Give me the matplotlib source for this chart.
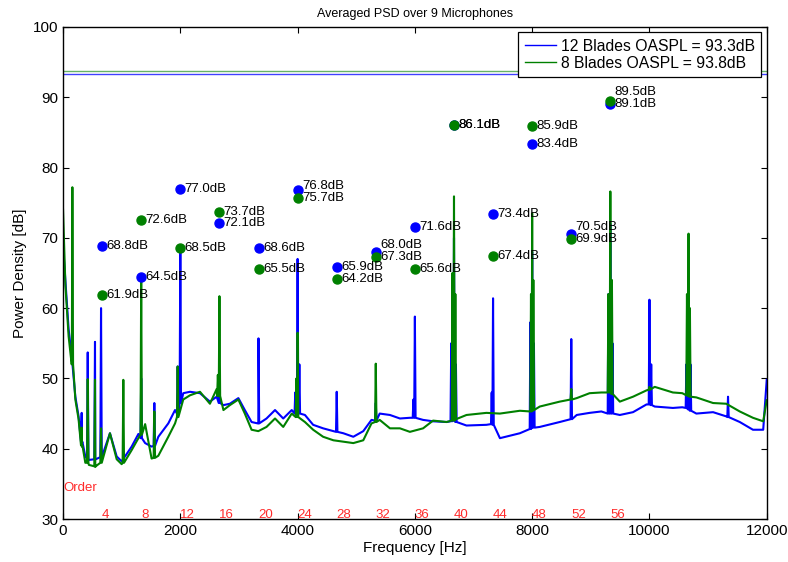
import numpy as np
import matplotlib
matplotlib.use("Agg")
import matplotlib.pyplot as plt

plt.rcParams['font.family'] = ['Liberation Sans', 'DejaVu Sans']

# ── 데이터 ─────────────────────────────────────────────────────────
SHAFT_HZ = 2000.0 / 12          # 1차 회전 주파수

# 광대역 바닥 (두 곡선 공통 주파수 격자)
base_freq = [0, 40, 95, 150, 210, 265, 320, 380, 440, 550, 660, 800, 915, 1000,
             1170, 1285, 1400, 1510, 1625, 1795, 1910, 2050, 2165, 2335, 2505,
             2620, 2735, 2845, 2990, 3100, 3215, 3330, 3470, 3615, 3755, 3900,
             4125, 4265, 4435, 4610, 4780, 4950, 5120, 5260, 5400, 5575, 5745,
             5915, 6140, 6310, 6540, 6880, 7220, 7450, 7790, 8130, 8470, 8760,
             8980, 9180, 9495, 9720, 9950, 10090, 10400, 10560, 10800, 11085,
             11310, 11540, 11765, 11940, 12000]
base_12 = [69.0, 64.0, 57.0, 53.0, 47.4, 44.6, 40.8, 38.9, 38.4, 38.5, 38.9, 42.2,
           38.9, 38.2, 40.3, 42.1, 40.8, 40.3, 41.7, 43.6, 45.5, 47.9, 48.1, 47.9,
           46.7, 47.4, 46.2, 46.4, 47.2, 45.5, 43.8, 43.6, 44.3, 45.5, 44.3, 45.5,
           44.8, 43.4, 42.9, 42.5, 42.2, 41.7, 42.5, 44.1, 45.0, 44.8, 44.3, 44.4,
           44.1, 43.9, 43.8, 43.3, 43.4, 41.5, 42.2, 43.1, 43.8, 44.8, 45.1, 45.3,
           44.8, 45.2, 46.3, 46.0, 45.8, 45.9, 45.0, 45.2, 44.6, 43.8, 42.7, 42.7,
           49.8]
base_8 = [74.0, 63.3, 56.0, 52.2, 47.0, 44.2, 40.3, 38.0, 37.7, 37.4, 38.1, 42.2,
          38.5, 37.8, 39.8, 41.5, 43.5, 38.6, 39.0, 41.7, 43.6, 47.0, 47.6, 48.1,
          46.4, 48.5, 45.5, 46.2, 47.0, 45.0, 42.7, 42.5, 43.1, 44.3, 43.1, 45.0,
          43.8, 42.7, 41.7, 41.2, 41.0, 40.8, 41.2, 43.6, 44.1, 42.9, 42.9, 42.4,
          42.9, 44.0, 43.8, 44.8, 45.1, 45.0, 45.4, 46.0, 46.7, 47.2, 47.9, 48.0,
          46.7, 47.4, 48.3, 48.8, 48.0, 47.9, 47.3, 46.5, 46.4, 45.3, 44.4, 43.9,
          46.9]

# 톤 성분 (주파수, 최대값, 바닥값)
peak_f_12 = [318, 421, 545, 648, 1333, 1557, 1955, 2000, 2667, 3333, 3960, 4000,
             4030, 4667, 5333, 5975, 6000, 6620, 6667, 6700, 7310, 7333, 7970,
             8000, 8030, 8667, 9300, 9333, 9370, 10000, 10030, 10630, 10667,
             10700, 11340]
peak_db_12 = [45.1, 53.7, 55.2, 60.0, 50.0, 46.5, 51.7, 68.4, 50.0, 55.7, 48.0,
              67.0, 52.0, 48.1, 46.5, 47.0, 58.8, 55.0, 70.0, 52.0, 48.0, 61.4,
              58.0, 68.0, 55.0, 55.6, 62.0, 72.0, 55.0, 61.2, 52.0, 52.0, 64.0,
              52.0, 47.4]
peak_foot_12 = [41.0, 38.6, 38.5, 38.8, 41.5, 40.4, 45.0, 46.5, 46.5, 43.6, 45.0,
                45.5, 45.0, 42.4, 44.0, 44.4, 44.4, 43.9, 44.0, 43.8, 43.5, 43.4,
                42.8, 43.0, 43.0, 44.2, 45.0, 45.0, 45.0, 46.3, 46.2, 45.8, 45.6,
                45.4, 44.5]

peak_f_8 = [159, 318, 421, 545, 648, 1028, 1333, 1557, 1955, 2640, 2667, 3980,
            4000, 5333, 6640, 6667, 6690, 7980, 8000, 8020, 8667, 9300, 9333,
            9360, 10000, 10640, 10667, 10690]
peak_db_8 = [77.2, 43.0, 49.9, 49.8, 42.9, 49.8, 64.5, 45.3, 51.7, 50.5, 61.7,
             50.0, 56.5, 52.1, 65.0, 75.9, 62.0, 62.0, 73.5, 64.0, 48.5, 62.0,
             76.6, 64.0, 48.8, 62.0, 70.6, 60.0]
peak_foot_8 = [52.0, 40.5, 38.0, 37.5, 38.0, 38.0, 42.0, 38.7, 44.5, 47.5, 47.5,
               44.5, 44.5, 43.8, 44.0, 44.0, 44.2, 45.3, 45.4, 45.5, 47.0, 48.0,
               48.0, 47.8, 48.4, 47.6, 47.5, 47.4]

# 차수별 톤 레벨
orders = [4, 8, 12, 16, 20, 24, 28, 32, 36, 40, 44, 48, 52, 56]
tone_12 = [68.8, 64.5, 77.0, 72.1, 68.6, 76.8, 65.9, 68.0, 71.6, 86.1, 73.4, 83.4, 70.5, 89.1]
tone_8 = [61.9, 72.6, 68.5, 73.7, 65.5, 75.7, 64.2, 67.3, 65.6, 86.1, 67.4, 85.9, 69.9, 89.5]

OASPL_12 = 93.3
OASPL_8 = 93.8

SPIKE_HW = 12   # 톤 반폭 [Hz]


def build_spectrum(bf, bl, pf, pdb, pfoot):
    f = list(bf)
    l = list(bl)
    for fc, top, foot in zip(pf, pdb, pfoot):
        f += [fc - SPIKE_HW, fc, fc + SPIKE_HW]
        l += [foot, top, foot]
    f = np.array(f, dtype=float)
    l = np.array(l, dtype=float)
    idx = np.argsort(f, kind='stable')
    return f[idx], l[idx]


f12, l12 = build_spectrum(base_freq, base_12, peak_f_12, peak_db_12, peak_foot_12)
f8, l8 = build_spectrum(base_freq, base_8, peak_f_8, peak_db_8, peak_foot_8)

BLUE = '#0000ff'
GREEN = '#008000'
RED = '#ff2a2a'

fig = plt.figure(figsize=(7.88, 5.62), dpi=100)
ax = fig.add_axes([0.080, 0.0765, 0.893, 0.8755])

h12, = ax.plot(f12, l12, color=BLUE, lw=1.5, label=f'12 Blades OASPL = {OASPL_12:.1f}dB')
h8, = ax.plot(f8, l8, color=GREEN, lw=1.5, label=f'8 Blades OASPL = {OASPL_8:.1f}dB')
ax.axhline(OASPL_12, color=BLUE, lw=1.0, alpha=0.75)
ax.axhline(OASPL_8, color=GREEN, lw=1.0, alpha=0.6)

# 차수 톤 마커 + 라벨
order_f = np.array(orders) * SHAFT_HZ
ax.plot(order_f, tone_12, 'o', color=BLUE, ms=6.5, mec=BLUE, zorder=5)
ax.plot(order_f, tone_8, 'o', color=GREEN, ms=6.5, mec=GREEN, zorder=6)

for fx, a, b in zip(order_f, tone_12, tone_8):
    ya, yb = a, b
    gap = abs(a - b)
    if 0 < gap < 1.5:
        if a > b:
            ya = b + 1.7
        else:
            yb = a + 1.7
    ax.text(fx + 75, ya, f'{a:.1f}dB', fontsize=9.5, va='center', ha='left', zorder=7)
    ax.text(fx + 75, yb, f'{b:.1f}dB', fontsize=9.5, va='center', ha='left', zorder=7)

# 차수 눈금 (빨간 글씨)
ax.text(10, 34.0, 'Order', color=RED, fontsize=9.5, va='baseline', ha='left')
for o, fx in zip(orders, order_f):
    ax.text(fx, 30.2, str(o), color=RED, fontsize=9.5, va='baseline', ha='left')

ax.set_xlim(0, 12000)
ax.set_ylim(30, 100)
ax.set_xticks(np.arange(0, 12001, 2000))
ax.set_yticks(np.arange(30, 101, 10))
ax.tick_params(direction='in', top=True, right=True, length=4, width=0.8, labelsize=11)
for sp in ax.spines.values():
    sp.set_linewidth(1.0)

ax.set_xlabel('Frequency [Hz]', fontsize=11, labelpad=2)
ax.set_ylabel('Power Density [dB]', fontsize=11, labelpad=4)
ax.set_title('Averaged PSD over 9 Microphones', fontsize=9, pad=7)

leg = ax.legend(handles=[h12, h8], loc='upper right', fontsize=11.3, fancybox=False,
                edgecolor='black', framealpha=1.0, borderaxespad=0.35,
                handlelength=2.0, borderpad=0.4, labelspacing=0.12, handletextpad=0.3,
                handleheight=0.7)
leg.get_frame().set_linewidth(0.9)
for ln in leg.get_lines():
    ln.set_linewidth(1.0)

fig.savefig('out.png', dpi=100)
